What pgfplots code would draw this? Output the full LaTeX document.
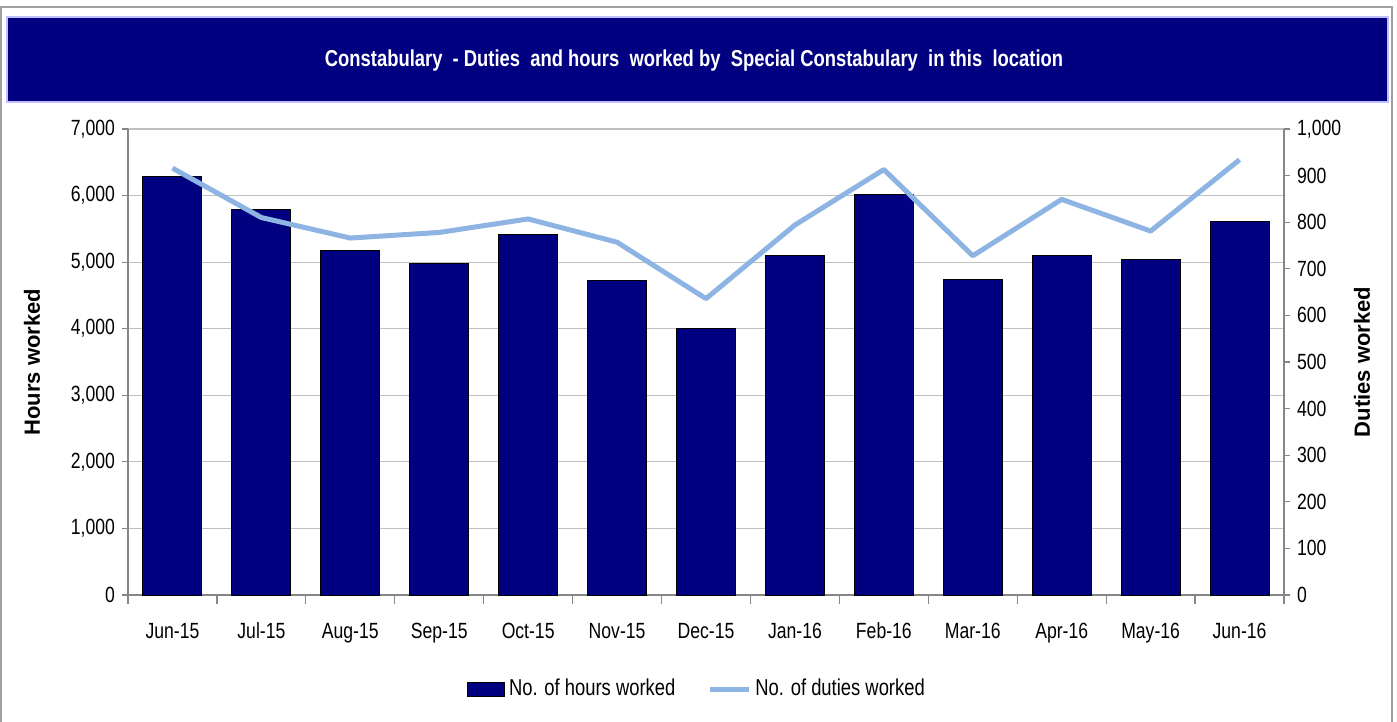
\documentclass[border=0pt]{standalone}
\usepackage{fontspec}
\setmainfont{Liberation Sans}[FakeStretch=0.8]
\newfontfamily\labelfont{Liberation Sans}
\usepackage{pgfplots}
\pgfplotsset{compat=1.18}
\usepackage{pgfplotstable}
\definecolor{navy}{RGB}{0,0,128}
\definecolor{dutyblue}{RGB}{141,180,226}
\definecolor{gridgray}{RGB}{192,192,192}
\definecolor{axisgray}{RGB}{134,134,134}
\definecolor{framegray}{RGB}{160,160,160}

\pgfplotstableread{
x hours duties
0 6280 916
1 5790 810
2 5180 766
3 4980 778
4 5415 807
5 4720 757
6 4000 636
7 5095 794
8 6010 913
9 4745 728
10 5095 849
11 5035 781
12 5615 934
}\data

\begin{document}
\begin{tikzpicture}
\useasboundingbox (0,0) rectangle (698.5pt,-361pt);
\draw[framegray, line width=1pt] (0.5pt,-361pt) -- (0.5pt,-3.5pt) -- (696pt,-3.5pt) -- (696pt,-361pt);
\fill[navy] (3.5pt,-8.5pt) rectangle (694pt,-51pt);
\draw[blue!25, line width=0.6pt] (3.5pt,-8.5pt) rectangle (694pt,-51pt);
\node[text=white, font=\fontsize{11.5}{14}\selectfont\bfseries] at (347pt,-30.5pt)
  {Constabulary \ - Duties \ and hours \ worked by \ Special Constabulary \ in this \ location};

\begin{axis}[
  at={(64pt,-297.5pt)}, anchor=south west,
  scale only axis, width=578pt, height=233pt,
  xmin=-0.5, xmax=12.5, ymin=0, ymax=7000,
  axis x line*=bottom, axis y line*=left,
  axis line style={axisgray, line width=0.6pt},
  tick style={axisgray, line width=0.6pt},
  tick align=outside, major tick length=3pt, minor tick length=4.5pt,
  xtick={0,...,12},
  xticklabels={Jun-15,Jul-15,Aug-15,Sep-15,Oct-15,Nov-15,Dec-15,Jan-16,Feb-16,Mar-16,Apr-16,May-16,Jun-16},
  minor xtick={-0.5,0.5,...,12.5},
  major x tick style={draw=none},
  xticklabel style={yshift=-7pt, text height=8pt, text depth=2pt},
  ytick={0,1000,...,7000},
  ymajorgrids, grid style={gridgray, line width=0.6pt},
  /pgf/number format/assume math mode=true,
  /pgf/number format/1000 sep={,},
  tick label style={font=\fontsize{11}{13}\selectfont},
  ylabel={Hours worked},
  ylabel style={at={(axis description cs:-0.0830,0.5)}, anchor=center, font=\labelfont\bfseries\fontsize{11}{13}\selectfont},
  legend style={at={(0.493,-0.2017)}, anchor=center, legend columns=2, draw=none,
    font=\fontsize{11.5}{13}\selectfont,
    /tikz/every even column/.append style={column sep=14pt}},
]
\addplot[ybar, bar width=29.5pt, fill=navy, draw=black, line width=0.5pt,
  legend image code/.code={\draw[fill=navy, draw=black, line width=0.5pt] (0pt,-3.5pt) rectangle (18.5pt,3.5pt);}]
  table[x=x, y=hours]{\data};
\addlegendentry{No. of hours worked}
\addlegendimage{dutyblue, line width=2.5pt, legend image code/.code={\draw[dutyblue, line width=2.5pt] (0pt,0pt) -- (19.5pt,0pt);}}
\addlegendentry{No. of duties worked}
\end{axis}

\begin{axis}[
  at={(64pt,-297.5pt)}, anchor=south west,
  scale only axis, width=578pt, height=233pt,
  xmin=-0.5, xmax=12.5, ymin=0, ymax=1000,
  axis x line=none, axis y line*=right,
  axis line style={axisgray, line width=0.6pt},
  tick style={axisgray, line width=0.6pt},
  tick align=outside, major tick length=3pt,
  ytick={0,100,...,1000},
  /pgf/number format/assume math mode=true,
  /pgf/number format/1000 sep={,},
  tick label style={font=\fontsize{11}{13}\selectfont},
  ylabel={Duties worked},
  ylabel style={at={(axis description cs:1.0675,0.5)}, anchor=center, font=\labelfont\bfseries\fontsize{11}{13}\selectfont},
]
\addplot[dutyblue, line width=2.5pt, mark=none, line join=round] table[x=x, y=duties]{\data};
\end{axis}
\end{tikzpicture}
\end{document}
